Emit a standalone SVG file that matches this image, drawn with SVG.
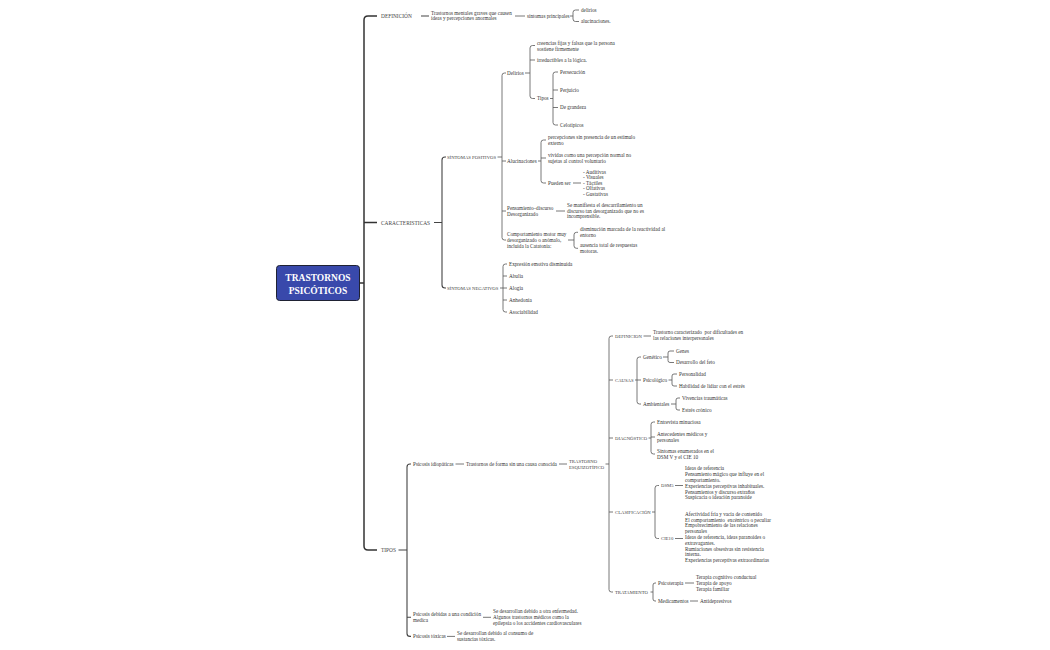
<svg xmlns="http://www.w3.org/2000/svg" width="1050" height="650" viewBox="0 0 1050 650">
<style>
text{font-family:"Liberation Serif","Times New Roman",serif;fill:#333}
.t{font-size:5.2px}
.u{font-size:4.7px;fill:#444}
.m{font-size:5.4px;fill:#444}
.r{font-size:9.5px;font-weight:bold;fill:#fff;text-anchor:middle}
.pre{white-space:pre}
.c{fill:none;stroke:#555;stroke-width:0.8}
.c1{fill:none;stroke:#444;stroke-width:1.1}
.tr{fill:none;stroke:#333;stroke-width:1.5}
</style>
<rect width="1050" height="650" fill="#fff"/>
<g id="connectors">
<path class="tr" d="M360 283H364M377 16H368Q364 16 364 20V546Q364 550 368 550H377M364 222.5H377"/>
<path class="c1" d="M421 16H429M434 222.5H442M446 157H445Q442 157 442 160V285Q442 288 445 288H446M398.5 550H407M411 464H410Q407 464 407 467V633.4Q407 636.4 410 636.4H411M407 617.3H411"/>
<path class="c" d="M515 16H525M570 16H573M579 10H575.5Q573 10 573 12.5V19Q573 21.5 575.5 21.5H579"/>
<path class="c" d="M497.5 157H502M506 73H504.5Q502 73 502 75.5V237.5Q502 240 504.5 240H506M502 161H506M502 211H506"/>
<path class="c" d="M525 73H530M535 45.5H532.5Q530 45.5 530 48V96Q530 98.5 532.5 98.5H535M530 60H535"/>
<path class="c" d="M550 98.5H553M558 72H555.5Q553 72 553 74.5V122.5Q553 125 555.5 125H558M553 90H558M553 107.5H558"/>
<path class="c" d="M538 161H541M546 140H543.5Q541 140 541 142.5V180.5Q541 183 543.5 183H546M541 158H546M573 183H581"/>
<path class="c" d="M556 211H565M568 240H574M578 232.3H576.5Q574 232.3 574 234.8V245.8Q574 248.3 576.5 248.3H578"/>
<path class="c" d="M500 288H503M507 264H505.5Q503 264 503 266.5V309.5Q503 312 505.5 312H507M503 276H507M503 288H507M503 300H507"/>
<path class="c" d="M455.5 464H464M559 464H567M605.5 464H609M613 336H611.5Q609 336 609 338.5V589.5Q609 592 611.5 592H613M609 380H613M609 438H613M609 512H613"/>
<path class="c" d="M643.5 336H651M635 380H637M641 357H639.5Q637 357 637 359.5V401.5Q637 404 639.5 404H641M637 380H641"/>
<path class="c" d="M663 357H668M674 351H670Q668 351 668 353V360.5Q668 362.5 670 362.5H674M668.5 380H672M677 374H674Q672 374 672 376V384Q672 386 674 386H677M671 404H676M680 398H678Q676 398 676 400V408Q676 410 678 410H680"/>
<path class="c" d="M648.5 438H651M655 422H653.5Q651 422 651 424.5V451.5Q651 454 653.5 454H655M651 437H655"/>
<path class="c" d="M652 512H655M659 485.5H657.5Q655 485.5 655 488V536Q655 538.5 657.5 538.5H659M675 485.5H683M675 538.5H683"/>
<path class="c" d="M650.5 592H653M656 583H655Q653 583 653 585V599Q653 601 655 601H656M685 583H694M690 601H698"/>
<path class="c" d="M483 617.3H491M447 636.4H455"/>
</g>
<g id="root"><rect x="276.5" y="265.5" width="83" height="35" rx="3" fill="#3949ab" stroke="#1f2233" stroke-width="1"/><text class="r" x="318" y="280.5">TRASTORNOS</text><text class="r" x="318" y="293.5">PSICÓTICOS</text></g>
<g id="n-definicion"><text class="m" x="381" y="18">DEFINICIÓN</text></g>
<g id="n-def-txt"><text class="t" x="431" y="14.5">Trastornos mentales graves que causen</text><text class="t" x="431" y="20.3">ideas y percepciones anormales</text></g>
<g id="n-sintprin"><text class="t" x="527" y="17.8">síntomas principales</text></g>
<g id="n-delirios1"><text class="t" x="581" y="11.8">delirios</text></g>
<g id="n-aluc1"><text class="t" x="581" y="23.3">alucinaciones.</text></g>
<g id="n-car"><text class="m" x="381" y="224.5">CARACTERISTICAS</text></g>
<g id="n-sp"><text class="u" x="447" y="158.7">SÍNTOMAS POSITIVOS</text></g>
<g id="n-sn"><text class="u" x="447" y="289.7">SÍNTOMAS NEGATIVOS</text></g>
<g id="n-delirios"><text class="t" x="507" y="74.8">Delirios</text></g>
<g id="n-creencias"><text class="t" x="537" y="44.8">creencias fijas y falsas que la persona</text><text class="t" x="537" y="50.6">sostiene firmemente</text></g>
<g id="n-irred"><text class="t" x="537" y="61.8">irreductibles a la lógica.</text></g>
<g id="n-tipos"><text class="t" x="537" y="100.3">Tipos</text></g>
<g id="n-persec"><text class="t" x="560" y="73.8">Persecución</text></g>
<g id="n-perj"><text class="t" x="560" y="91.8">Perjuicio</text></g>
<g id="n-grand"><text class="t" x="560" y="109.3">De grandeza</text></g>
<g id="n-celo"><text class="t" x="560" y="126.8">Celotípicos</text></g>
<g id="n-aluc"><text class="t" x="507" y="162.8">Alucinaciones</text></g>
<g id="n-percep"><text class="t" x="548" y="139.3">percepciones sin presencia de un estímulo</text><text class="t" x="548" y="144.8">externo</text></g>
<g id="n-vividas"><text class="t" x="548" y="157.3">vívidas como una percepción normal no</text><text class="t" x="548" y="162.8">sujetas al control voluntario</text></g>
<g id="n-pueden"><text class="t" x="548" y="184.8">Pueden ser</text></g>
<g id="n-lista"><text class="t" x="583" y="173.6">- Auditivas</text><text class="t" x="583" y="179.2">- Visuales</text><text class="t" x="583" y="184.8">- Táctiles</text><text class="t" x="583" y="190.4">- Olfativas</text><text class="t" x="583" y="196">- Gustativas</text></g>
<g id="n-pens"><text class="t" x="507" y="209.8">Pensamiento–discurso</text><text class="t" x="507" y="215.8">Desorganizado</text></g>
<g id="n-manif"><text class="t" x="567" y="207.3">Se manifiesta el descarrilamiento un</text><text class="t" x="567" y="212.8">discurso tan desorganizado que no es</text><text class="t" x="567" y="218.3">incomprensible.</text></g>
<g id="n-comp"><text class="t" x="507" y="235.8">Comportamiento motor muy</text><text class="t" x="507" y="241.8">desorganizado o anómalo,</text><text class="t" x="507" y="247.8">incluida la Catatonia:</text></g>
<g id="n-dismin"><text class="t" x="580" y="231.3">disminución marcada de la reactividad al</text><text class="t" x="580" y="236.8">entorno</text></g>
<g id="n-ausencia"><text class="t" x="580" y="247.3">ausencia total de respuestas</text><text class="t" x="580" y="252.8">motoras.</text></g>
<g id="n-expr"><text class="t" x="509" y="265.8">Expresión emotiva disminuida</text></g>
<g id="n-abulia"><text class="t" x="509" y="277.8">Abulia</text></g>
<g id="n-alogia"><text class="t" x="509" y="289.8">Alogia</text></g>
<g id="n-anhed"><text class="t" x="509" y="301.8">Anhedonia</text></g>
<g id="n-asoc"><text class="t" x="509" y="313.8">Asociabilidad</text></g>
<g id="n-tiposm"><text class="m" x="381" y="552">TIPOS</text></g>
<g id="n-idio"><text class="t" x="413" y="465.8">Psicosis idiopáticas</text></g>
<g id="n-forma"><text class="t" x="466" y="465.8">Trastornos de forma sin una causa conocida</text></g>
<g id="n-tesq"><text class="u" x="569" y="462.7">TRASTORNO</text><text class="u" x="569" y="468.7">ESQUIZOTÍPICO</text></g>
<g id="n-def2"><text class="u" x="615" y="337.7">DEFINICION</text></g>
<g id="n-def2-txt"><text class="t pre" x="653" y="334.3">Trastorno caracterizado  por dificultades en</text><text class="t" x="653" y="340.3">las relaciones interpersonales</text></g>
<g id="n-causas"><text class="u" x="615" y="381.7">CAUSAS</text></g>
<g id="n-gen"><text class="t" x="643" y="358.8">Genético</text></g>
<g id="n-genes"><text class="t" x="676" y="352.8">Genes</text></g>
<g id="n-feto"><text class="t" x="676" y="364.3">Desarrollo del feto</text></g>
<g id="n-psico"><text class="t" x="643" y="381.8">Psicológico</text></g>
<g id="n-perso"><text class="t" x="679" y="375.8">Personalidad</text></g>
<g id="n-habil"><text class="t" x="679" y="387.8">Habilidad de lidiar con el estrés</text></g>
<g id="n-amb"><text class="t" x="643" y="405.8">Ambientales</text></g>
<g id="n-viv"><text class="t" x="682" y="399.8">Vivencias traumáticas</text></g>
<g id="n-estres"><text class="t" x="682" y="411.8">Estrés crónico</text></g>
<g id="n-diag"><text class="u" x="615" y="439.7">DIAGNÓSTICO</text></g>
<g id="n-entrev"><text class="t" x="657" y="423.8">Entrevista minuciosa</text></g>
<g id="n-antec"><text class="t" x="657" y="435.8">Antecedentes médicos y</text><text class="t" x="657" y="441.8">personales</text></g>
<g id="n-sinto"><text class="t" x="657" y="452.8">Síntomas enumerados en el</text><text class="t" x="657" y="458.8">DSM V y el CIE 10</text></g>
<g id="n-clas"><text class="u" x="615" y="513.7">CLASIFICACIÓN</text></g>
<g id="n-dsm"><text class="u" x="661" y="487.2">DSM5</text></g>
<g id="n-cie"><text class="u" x="661" y="540.2">CIE10</text></g>
<g id="n-dsm-txt"><text class="t" x="685" y="470.3">Ideas de referencia</text><text class="t" x="685" y="476.1">Pensamiento mágico que influye en el</text><text class="t" x="685" y="481.9">comportamiento.</text><text class="t" x="685" y="487.7">Experiencias perceptivas inhabituales.</text><text class="t" x="685" y="493.5">Pensamientos y discurso extraños</text><text class="t" x="685" y="499.3">Suspicacia o ideación paranoide</text></g>
<g id="n-cie-txt"><text class="t" x="685" y="515.8">Afectividad fría y vacía de contenido</text><text class="t pre" x="685" y="521.6">El comportamiento  excéntrico o peculiar</text><text class="t" x="685" y="527.4">Empobrecimiento de las relaciones</text><text class="t" x="685" y="533.2">personales</text><text class="t" x="685" y="539">Ideas de referencia, ideas paranoides o</text><text class="t" x="685" y="544.8">extravagantes.</text><text class="t" x="685" y="550.6">Rumiaciones obsesivas sin resistencia</text><text class="t" x="685" y="556.4">interna.</text><text class="t" x="685" y="562.2">Experiencias perceptivas extraordinarias</text></g>
<g id="n-trat"><text class="u" x="615" y="593.7">TRATAMIENTO</text></g>
<g id="n-psicot"><text class="t" x="658" y="584.8">Psicoterapia</text></g>
<g id="n-terapias"><text class="t" x="696" y="578.8">Terapia cognitivo conductual</text><text class="t" x="696" y="584.8">Terapia de apoyo</text><text class="t" x="696" y="590.8">Terapia familiar</text></g>
<g id="n-medic"><text class="t" x="658" y="602.8">Medicamentos</text></g>
<g id="n-antid"><text class="t" x="700" y="602.8">Antidepresivos</text></g>
<g id="n-debidas"><text class="t" x="413" y="615.8">Psicosis debidas a una condición</text><text class="t" x="413" y="621.8">medica</text></g>
<g id="n-debidas-txt"><text class="t" x="493" y="613.3">Se desarrollan debido a otra enfermedad.</text><text class="t" x="493" y="619.1">Algunos trastornos médicos como la</text><text class="t" x="493" y="624.9">epilepsia o los accidentes cardiovasculares</text></g>
<g id="n-toxicas"><text class="t" x="413" y="638.2">Psicosis tóxicas</text></g>
<g id="n-toxicas-txt"><text class="t" x="457" y="635.3">Se desarrollan debido al consumo de</text><text class="t" x="457" y="641.1">sustancias tóxicas.</text></g>
</svg>
